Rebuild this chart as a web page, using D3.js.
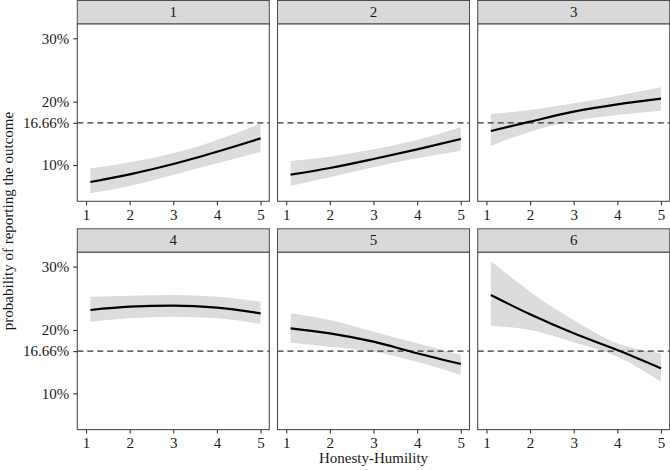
<!DOCTYPE html>
<html>
<head>
<meta charset="utf-8">
<script src="https://cdn.jsdelivr.net/npm/d3@7"></script>
<style>
  html, body { margin: 0; padding: 0; background: #fff; }
  svg text { font-family: "Liberation Serif", "Times New Roman", serif; fill: #1a1a1a; }
</style>
</head>
<body>
<svg id="chart" width="670" height="470"></svg>
<script>
// ---- data ----
const panels = ["1", "2", "3", "4", "5", "6"];
const xValues = [1.1, 2, 3, 4, 5];
const fitValues = [
  [7.32, 8.53, 10.16, 12.1, 14.2],
  [8.47, 9.53, 10.95, 12.47, 14.1],
  [15.37, 16.84, 18.42, 19.58, 20.47],
  [23.15, 23.68, 23.84, 23.52, 22.63],
  [20.26, 19.47, 18.15, 16.32, 14.63],
  [25.52, 22.47, 19.47, 16.84, 13.95]
];
const upperValues = [
  [9.47, 10.42, 11.84, 13.95, 16.58],
  [10.63, 11.3, 12.47, 13.95, 15.95],
  [18.05, 18.68, 19.74, 20.94, 22.26],
  [25.26, 25.4, 25.52, 25.26, 24.47],
  [22.63, 21.57, 19.73, 17.9, 16.05],
  [30.89, 26.05, 21.57, 17.9, 16.32]
];
const lowerValues = [
  [5.53, 6.68, 8.42, 10.26, 12.05],
  [6.68, 8.05, 9.63, 11.05, 12.26],
  [13.0, 15.26, 16.95, 17.9, 18.58],
  [21.3, 21.84, 22.1, 21.84, 20.95],
  [17.99, 17.36, 16.57, 14.99, 12.89],
  [20.68, 20.0, 18.05, 15.78, 11.84]
];
const yTickValues = [10, 16.66, 20, 30];
const yTickLabels = ["10%", "16.66%", "20%", "30%"];
const xTickValues = [1, 2, 3, 4, 5];
const xTickLabels = ["1", "2", "3", "4", "5"];
const referenceLevel = 16.66;
const xTitle = "Honesty-Humility";
const yTitle = "probability of reporting the outcome";

// ---- layout ----
const svg = d3.select("#chart");
const panelLeft = 77.3, panelW = 192, colStep = 200.2;
const stripH = 24, panelH = 177.3;
const rowStripTops = [0, 228.3];
const xDomain = [0.8, 5.2];
const yDomain = [4.27, 32.26];
const fontSize = 15;

panels.forEach((label, i) => {
  const col = i % 3, row = Math.floor(i / 3);
  const x0 = panelLeft + col * colStep;
  const stripTop = rowStripTops[row];
  const top = stripTop + stripH;

  const x = d3.scaleLinear().domain(xDomain).range([x0, x0 + panelW]);
  const y = d3.scaleLinear().domain(yDomain).range([top + panelH, top]);

  const g = svg.append("g");

  // strip
  g.append("rect")
    .attr("x", x0).attr("y", stripTop + 0.5)
    .attr("width", panelW).attr("height", stripH - 0.5)
    .attr("fill", "#d9d9d9").attr("stroke", "#4d4d4d").attr("stroke-width", 1);
  g.append("text")
    .attr("x", x0 + panelW / 2).attr("y", stripTop + stripH / 2 + 5)
    .attr("text-anchor", "middle").attr("font-size", fontSize)
    .text(label);

  // panel background
  g.append("rect")
    .attr("x", x0).attr("y", top).attr("width", panelW).attr("height", panelH)
    .attr("fill", "#fff");

  const pts = xValues.map((xv, k) => ({ x: xv, fit: fitValues[i][k], lo: lowerValues[i][k], hi: upperValues[i][k] }));

  // ribbon
  g.append("path")
    .datum(pts)
    .attr("fill", "#dcdcdc")
    .attr("d", d3.area().curve(d3.curveMonotoneX)
      .x(d => x(d.x)).y0(d => y(d.lo)).y1(d => y(d.hi)));

  // reference line
  g.append("line")
    .attr("x1", x0).attr("x2", x0 + panelW)
    .attr("y1", y(referenceLevel)).attr("y2", y(referenceLevel))
    .attr("stroke", "#333").attr("stroke-width", 1.3)
    .attr("stroke-dasharray", "6,4");

  // fit line
  g.append("path")
    .datum(pts)
    .attr("fill", "none").attr("stroke", "#000").attr("stroke-width", 2.2)
    .attr("d", d3.line().curve(d3.curveMonotoneX).x(d => x(d.x)).y(d => y(d.fit)));

  // panel border
  g.append("rect")
    .attr("x", x0).attr("y", top).attr("width", panelW).attr("height", panelH)
    .attr("fill", "none").attr("stroke", "#4d4d4d").attr("stroke-width", 1.1);

  // x axis
  const xa = g.append("g")
    .attr("transform", `translate(0,${top + panelH})`)
    .call(d3.axisBottom(x).tickValues(xTickValues)
      .tickFormat((d, k) => xTickLabels[k]).tickSize(4).tickPadding(4));
  xa.select(".domain").remove();
  xa.selectAll("line").attr("stroke", "#333").attr("stroke-width", 1.1);
  xa.selectAll("text").attr("font-size", fontSize)
    .attr("font-family", "Liberation Serif, serif").attr("fill", "#1a1a1a");

  // y axis (first column only)
  if (col === 0) {
    const ya = g.append("g")
      .attr("transform", `translate(${x0},0)`)
      .call(d3.axisLeft(y).tickValues(yTickValues)
        .tickFormat((d, k) => yTickLabels[k]).tickSize(4).tickPadding(4));
    ya.select(".domain").remove();
    ya.selectAll("line").attr("stroke", "#333").attr("stroke-width", 1.1);
    ya.selectAll("text").attr("font-size", fontSize)
      .attr("font-family", "Liberation Serif, serif").attr("fill", "#1a1a1a");
  }
});

// axis titles
svg.append("text")
  .attr("x", panelLeft + colStep + panelW / 2).attr("y", 463)
  .attr("text-anchor", "middle").attr("font-size", fontSize)
  .text(xTitle);

svg.append("text")
  .attr("transform", `translate(12.5,221) rotate(-90)`)
  .attr("text-anchor", "middle").attr("font-size", fontSize)
  .text(yTitle);
</script>
</body>
</html>
